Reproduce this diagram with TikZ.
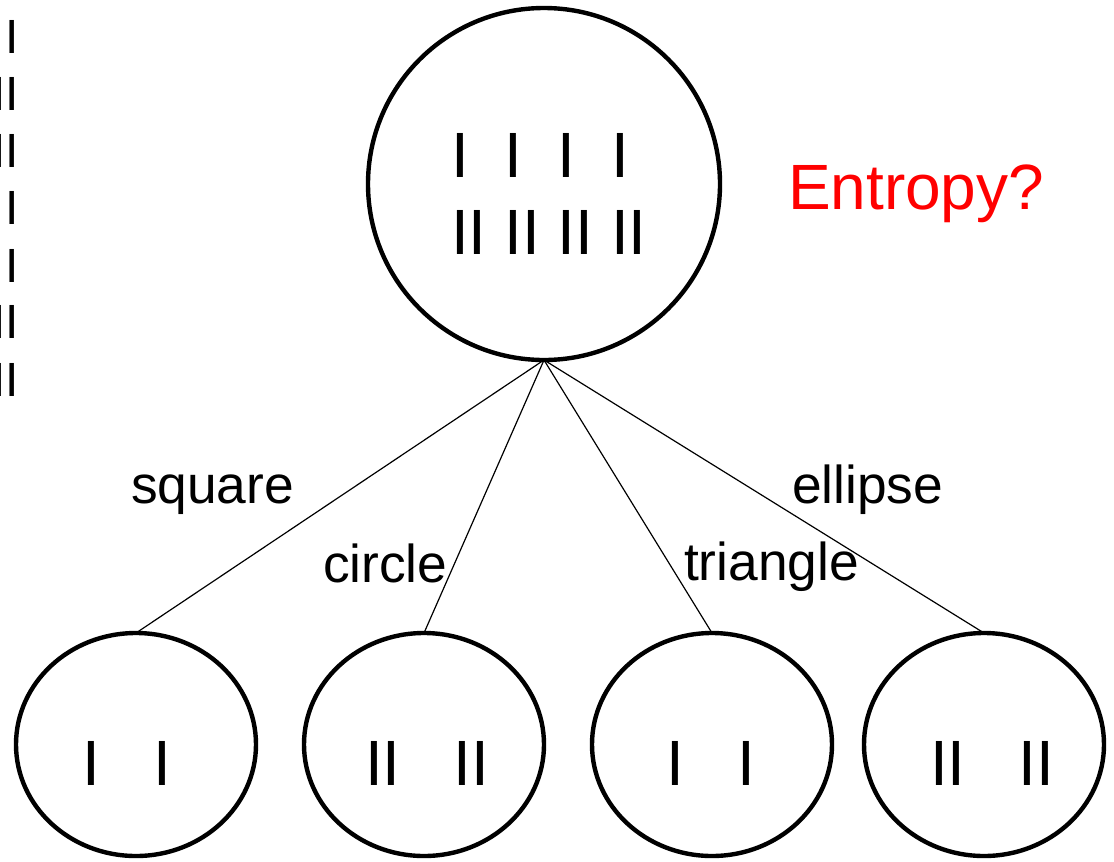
\documentclass[tikz,border=0pt]{standalone}
\usepackage{fontspec}
\setmainfont{Liberation Sans}
\usetikzlibrary{shapes.geometric}
\begin{document}
\begin{tikzpicture}[x=0.75pt,y=-0.75pt,
  big/.style={font=\fontsize{48}{57.6}\selectfont, inner sep=0pt, outer sep=0pt},
  mid/.style={font=\fontsize{40}{48}\selectfont, inner sep=0pt, outer sep=0pt},
  small/.style={font=\fontsize{36}{43}\selectfont, inner sep=0pt, outer sep=0pt},
  topcirc/.style={circle, draw, line width=3.3pt, minimum size=264pt, inner sep=0pt, outer sep=0pt},
  leaf/.style={ellipse, draw, line width=3.3pt, minimum width=180pt, minimum height=167.25pt, inner sep=0pt, outer sep=0pt},
  conn/.style={line width=0.9pt}]
\useasboundingbox (0,0) rectangle (1114,861);
% left column
\node[small, anchor=base east] (l1) at (19,53) {I};
\node[small, anchor=base east] (l2) at (19,110) {II};
\node[small, anchor=base east] (l3) at (19,167) {II};
\node[small, anchor=base east] (l4) at (19,224) {I};
\node[small, anchor=base east] (l5) at (19,282) {I};
\node[small, anchor=base east] (l6) at (19,338) {II};
\node[small, anchor=base east] (l7) at (19,396) {II};
% top circle
\node[topcirc] (top) at (544,184) {};
\node[big, anchor=base west] (r1) at (451,177) {I~~I~~I~~I};
\node[big, anchor=base west] (r2) at (451,254) {II~II~II~II};
\node[big, anchor=base west, text={rgb,255:red,255;green,0;blue,0}] (ent) at (788,209) {Entropy?};
% leaves
\node[leaf] (c1) at (136,744.5) {};
\node[leaf] (c2) at (424,744.5) {};
\node[leaf] (c3) at (712,744.5) {};
\node[leaf] (c4) at (984,744.5) {};
\node[big, anchor=base west] (t1) at (82,785) {I~~~I};
\node[big, anchor=base west] (t2) at (365,785) {II~~~II};
\node[big, anchor=base west] (t3) at (666,785) {I~~~I};
\node[big, anchor=base west] (t4) at (930,785) {II~~~II};
% connectors
\draw[conn] (top.south) -- (c1.north);
\draw[conn] (top.south) -- (c2.north);
\draw[conn] (top.south) -- (c3.north);
\draw[conn] (top.south) -- (c4.north);
% labels
\node[mid, anchor=base west] (lsq) at (131,503) {square};
\node[mid, anchor=base west] (lci) at (323,582) {circle};
\node[mid, anchor=base west] (ltr) at (684,580) {triangle};
\node[mid, anchor=base west] (lel) at (792,503) {ellipse};
\end{tikzpicture}
\end{document}
